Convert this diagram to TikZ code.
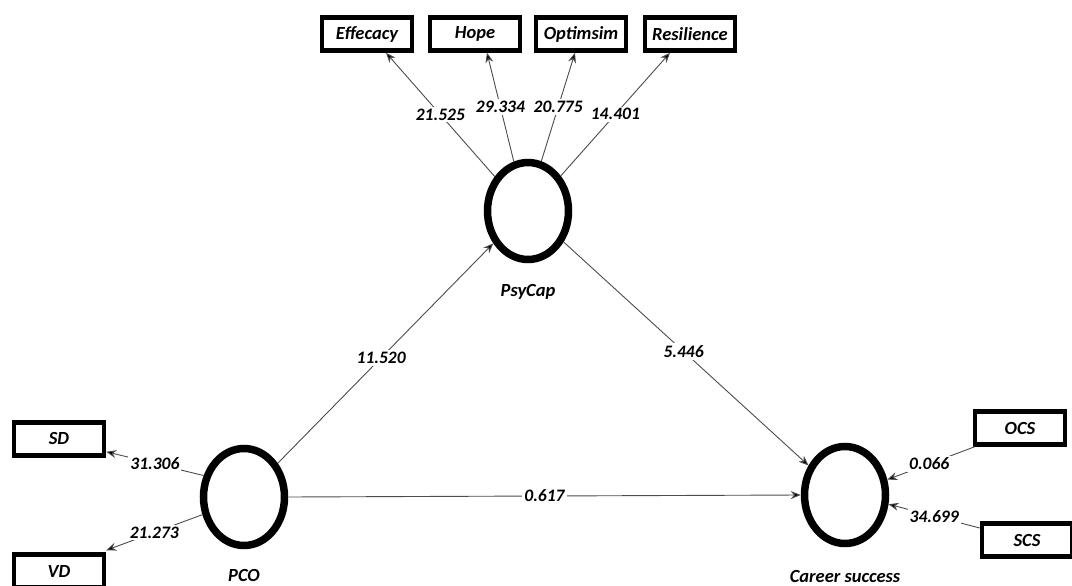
\documentclass[tikz,border=0pt]{standalone}
\usepackage{fontspec}
\setmainfont{Carlito}
\usetikzlibrary{shapes.geometric,arrows.meta,calc}
\tikzset{
  latent/.style={ellipse,draw,line width=7.5pt,minimum width=81pt,minimum height=97pt,inner sep=0pt},
  indic/.style={rectangle,draw,line width=4.5pt,minimum width=90pt,minimum height=33pt,inner sep=0pt,
    font=\fontsize{18.5}{19}\selectfont\bfseries\itshape},
  lname/.style={font=\fontsize{18.5}{19}\selectfont\bfseries\itshape},
  arr/.style={draw=black!70,line width=0.9pt,-{Stealth[length=10pt,width=8pt,fill=black]}},
  val/.style={fill=white,inner sep=2pt,font=\fontsize{17.5}{18}\selectfont\bfseries\itshape,pos=0.5}
}
\begin{document}
\begin{tikzpicture}[x=1pt,y=-1pt]
\useasboundingbox (0,0) rectangle (1072,586);
% latent variables
\node[latent] (psy) at (528,211) {};
\node[latent] (pco) at (244,497) {};
\node[latent] (car) at (845,495) {};
\node[lname] (psyl) at (528,292) {PsyCap};
\node[lname] (pcol) at (244,575) {PCO};
\node[lname] (carl) at (845,576) {Career success};
% indicators
\node[indic] (eff) at (367,34) {Effecacy};
\node[indic] (hope) at (475,34) {Hope};
\node[indic] (opt) at (581,34) {Optimsim};
\node[indic] (res) at (690,34) {Resilience};
\node[indic] (sd) at (59,439) {SD};
\node[indic] (vd) at (59,571) {VD};
\node[indic] (ocs) at (1020,428) {OCS};
\node[indic] (scs) at (1027,540) {SCS};
% PsyCap loadings
\draw[arr] (psy.134) -- node[val] {21.525} ($(eff.south)+(19,0)$);
\draw[arr] (psy.106) -- node[val] {29.334} ($(hope.south)+(12,0)$);
\draw[arr] (psy.75) -- node[val] {20.775} ($(opt.south)+(-6,0)$);
\draw[arr] (psy.47) -- node[val] {14.401} ($(res.south)+(-20,0)$);
% PCO loadings
\draw[arr] (pco.152) -- node[val] {31.306} ($(sd.south east)+(0,-6)$);
\draw[arr] (pco.203) -- node[val] {21.273} ($(vd.north east)+(0,-2)$);
% Career success indicators
\draw[arr] ($(ocs.south west)+(2,0)$) -- node[val,pos=0.52] {0.066} (car.20);
\draw[arr] ($(scs.west)+(0,-12)$) -- node[val] {34.699} (car.348);
% structural paths
\draw[arr] (pco.45) -- node[val,pos=0.48] {11.520} (psy.223);
\draw[arr] (psy.319) -- node[val,pos=0.49] {5.446} (car.141);
\draw[arr] (pco.east) -- node[val] {0.617} (car.west);
\end{tikzpicture}
\end{document}
